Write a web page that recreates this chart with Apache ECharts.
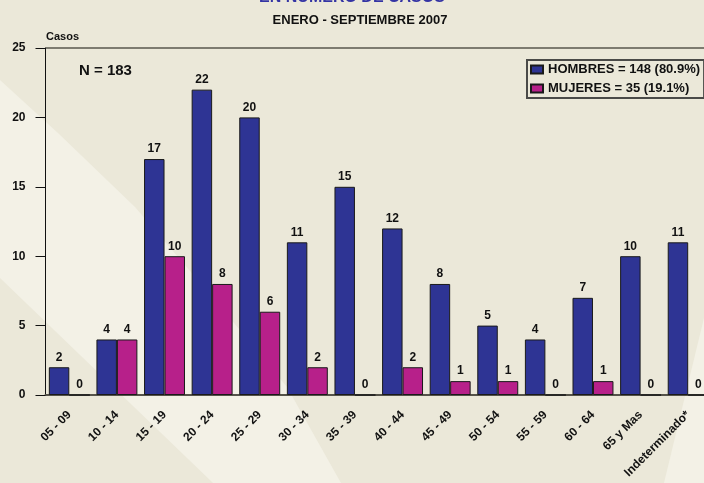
<!DOCTYPE html>
<html>
<head>
<meta charset="utf-8">
<script src="https://cdn.jsdelivr.net/npm/echarts@6/dist/echarts.min.js"></script>
<style>
  html, body { margin: 0; padding: 0; background: #EBE8D9; }
  #chart { width: 704px; height: 483px; }
</style>
</head>
<body>
<div id="chart"></div>
<script>
// datos
var grupos = ['05 - 09', '10 - 14', '15 - 19', '20 - 24', '25 - 29', '30 - 34', '35 - 39',
              '40 - 44', '45 - 49', '50 - 54', '55 - 59', '60 - 64', '65 y Mas', 'Indeterminado*'];
var hombres = [2, 4, 17, 22, 20, 11, 15, 12, 8, 5, 4, 7, 10, 11];
var mujeres = [0, 4, 10, 8, 6, 2, 0, 2, 1, 1, 0, 1, 0, 0];
var nombres = ['HOMBRES = 148 (80.9%)', 'MUJERES = 35 (19.1%)'];

(function () {
    'use strict';
    var FONT = '"Liberation Sans", Arial, sans-serif';
    var myChart = echarts.init(document.getElementById('chart'), null, { renderer: 'canvas' });

    var etiqueta = {
        show: true,
        position: 'top',
        distance: 4,
        color: '#111',
        fontWeight: 'bold',
        fontSize: 12,
        fontFamily: FONT
    };

    var option = {
        backgroundColor: '#EBE8D9',
        animation: false,
        textStyle: { fontFamily: FONT },
        graphic: [
            // franjas claras del fondo
            {
                type: 'polygon', z: -10, silent: true,
                shape: { points: [[0, 80], [58, 133], [135, 207], [215, 300], [287, 387], [341, 483], [213, 483], [0, 278]] },
                style: { fill: '#F3F1E6' }
            },
            {
                type: 'polygon', z: -10, silent: true,
                shape: { points: [[704, 318], [664, 483], [704, 483]] },
                style: { fill: '#F3F1E6' }
            },
            {
                type: 'text', left: 'center', z: 10,
                style: { x: 0, text: 'EN NUMERO DE CASOS', fill: '#3434A4', font: 'bold 16px ' + FONT },
                top: -10
            },
            {
                type: 'text', z: 10,
                style: { x: 360, y: 20, text: 'ENERO - SEPTIEMBRE 2007', fill: '#111', font: 'bold 13px ' + FONT,
                         textAlign: 'center', textVerticalAlign: 'middle' }
            },
            {
                type: 'text', z: 10,
                style: { x: 46, y: 37, text: 'Casos', fill: '#111', font: 'bold 11px ' + FONT,
                         textAlign: 'left', textVerticalAlign: 'middle' }
            },
            {
                type: 'text', z: 10,
                style: { x: 79, y: 71, text: 'N = 183', fill: '#111', font: 'bold 15px ' + FONT,
                         textAlign: 'left', textVerticalAlign: 'middle' }
            }
        ],
        legend: {
            orient: 'vertical',
            left: 527,
            top: 60,
            padding: [3, 4, 3, 3],
            borderColor: '#4a4a48',
            borderWidth: 2,
            itemWidth: 12,
            itemHeight: 8,
            itemGap: 6,
            icon: 'rect',
            textStyle: { color: '#111', fontWeight: 'bold', fontSize: 13, fontFamily: FONT },
            data: nombres
        },
        grid: {
            left: 45.5,
            right: -8,
            top: 48,
            bottom: 88,
            outerBoundsMode: 'none'
        },
        xAxis: {
            type: 'category',
            data: grupos,
            axisLine: { lineStyle: { color: '#55534a', width: 2 } },
            axisTick: { alignWithLabel: true, length: 10, lineStyle: { color: '#333' } },
            axisLabel: {
                interval: 0,
                rotate: 45,
                margin: 18,
                color: '#111',
                fontWeight: 'bold',
                fontSize: 12,
                fontFamily: FONT
            }
        },
        yAxis: {
            type: 'value',
            min: 0,
            max: 25,
            interval: 5,
            axisLine: { show: true, lineStyle: { color: '#111', width: 1 } },
            axisTick: { show: true, length: 10, lineStyle: { color: '#111' } },
            axisLabel: { margin: 20, color: '#111', fontWeight: 'bold', fontSize: 12, fontFamily: FONT },
            splitLine: {
                show: true,
                lineStyle: {
                    color: ['rgba(0,0,0,0)', 'rgba(0,0,0,0)', 'rgba(0,0,0,0)', 'rgba(0,0,0,0)', 'rgba(0,0,0,0)', '#7d7b70'],
                    width: 2
                }
            }
        },
        series: [
            {
                name: nombres[0],
                type: 'bar',
                data: hombres,
                barGap: '0%',
                barCategoryGap: '14%',
                itemStyle: { color: '#2E3494', borderColor: '#1a1a1a', borderWidth: 1 },
                label: etiqueta
            },
            {
                name: nombres[1],
                type: 'bar',
                data: mujeres,
                itemStyle: { color: '#B7208A', borderColor: '#1a1a1a', borderWidth: 1 },
                label: etiqueta
            }
        ]
    };

    myChart.setOption(option);
    window.addEventListener('resize', function () {
        myChart.resize();
    });
})();
</script>
</body>
</html>
